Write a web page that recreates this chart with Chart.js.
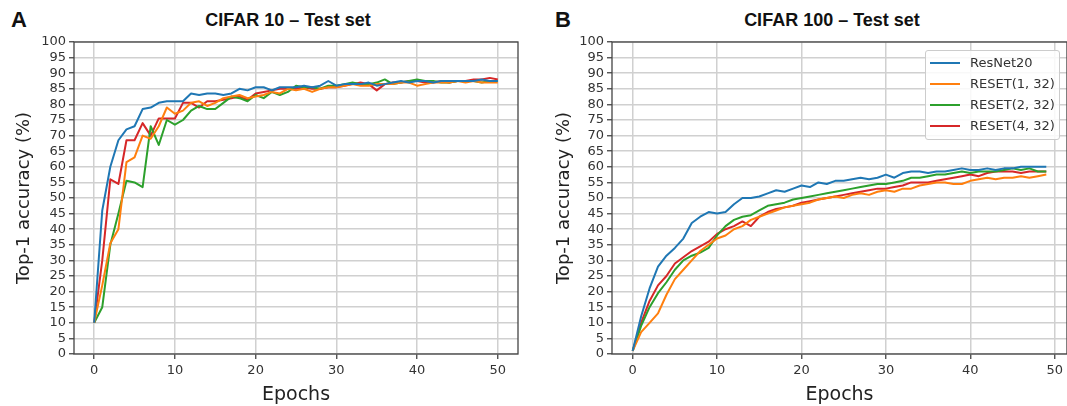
<!DOCTYPE html>
<html>
<head>
<meta charset="utf-8">
<script src="https://cdn.jsdelivr.net/npm/chart.js@4.4.1/dist/chart.umd.min.js"></script>
<style>
    html, body { margin: 0; padding: 0; background: #fff; }
    body { width: 1067px; height: 406px; position: relative; overflow: hidden; }
    canvas { position: absolute; top: 0; }
    .head { position: absolute; font-family: "Liberation Sans", Arial, sans-serif; font-weight: bold; color: #111; white-space: nowrap; }
    .title { font-size: 18px; line-height: 18px; top: 11px; transform: translateX(-50%); }
    .letter { font-size: 22px; line-height: 22px; top: 9px; }
    #legend { position: absolute; left: 925px; top: 50px; width: 135px; height: 90px; box-sizing: border-box;
              border: 1px solid #ccc; border-radius: 3px; background: rgba(255,255,255,0.85);
              font-family: "DejaVu Sans", sans-serif; font-size: 13px; color: #333; padding-top: 1px; }
    .row { height: 21px; display: flex; align-items: center; white-space: nowrap; }
    .swatch { width: 30px; height: 2px; margin-left: 4px; margin-right: 10px; }
</style>
</head>
<body>
<div class="head letter" style="left:11px">A</div>
<div class="head title" style="left:288px">CIFAR 10 – Test set</div>
<div class="head letter" style="left:555px">B</div>
<div class="head title" style="left:832px">CIFAR 100 – Test set</div>
<canvas id="c10" width="533" height="406" style="left:0"></canvas>
<canvas id="c100" width="534" height="406" style="left:533px"></canvas>
<div id="legend"></div>
<script>
const names = ['ResNet20', 'RESET(1, 32)', 'RESET(2, 32)', 'RESET(4, 32)'];
const colors = ['#1f77b4', '#ff7f0e', '#2ca02c', '#d62728'];
const xTicks = [0, 10, 20, 30, 40, 50];

// CIFAR 10, epochs 0..50
const blue10 = [10,46,60,68.5,72,73,78.5,79,80.5,81,81,81,83.5,83,83.5,83.5,83,83.5,85,84.5,85.5,85.5,84.5,85.5,85.5,85.5,86,85.5,86,87.5,86,86.5,86.5,86.5,87,86,86.5,87,87.5,87,87.5,87.5,87,87.5,87.5,87.5,87.5,87.5,88,87.5,87.5];
const orange10 = [10,22,35.5,40,61.5,63,70,69,73,79,77,78,80.5,81,79.5,80.5,82,82.5,83,82,82.5,83,84,83.5,85,84.5,85,84,85,85.5,85.5,86,86.5,86,86,86.5,86.5,86.5,87,87,86,86.5,87,87,87,87.5,87,87.5,87,87,87];
const green10 = [10,15,35,45,55.5,55,53.5,73,67,75,73.5,75,78,79.5,78.5,78.5,80.5,82.5,82,81,83,82,84,83,84,86,85.5,85.5,85,86,86,86.5,87,86.5,86.5,87,88,86.5,87,87.5,88,87.5,87.5,87,87,87.5,87.5,87.5,87,87.5,87.5];
const red10 = [10,30,56,54.5,68.5,68.5,74,70,75.5,75.5,75.5,80.5,80.5,79,81,81,81.5,82,82.5,81.5,83.5,84,84.5,85,85,85,85.5,85,85,85.5,85.5,86,86.5,87,86.5,84.5,86.5,87,87,87.5,87.5,87,87,87.5,87,87.5,87.5,88,88,88.5,88];

// CIFAR 100, epochs 0..49
const blue100 = [1,12,21,28,31.5,34,37,42,44,45.5,45,45.5,48,50,50,50.5,51.5,52.5,52,53,54,53.5,55,54.5,55.5,55.5,56,56.5,56,56.5,57.5,56.5,58,58.5,58.5,58,58.5,58.5,59,59.5,59,59,59.5,59,59.5,59.5,60,60,60,60];
const orange100 = [1,7,10,13,19,24,27,30,33,35,37,38,40,41,43,44,45,46,47,47.5,48,48.5,49.5,50,50.5,50,51,51.5,51,52,52.5,52,53,53,54,54.5,55,55,54.5,54.5,55.5,56,56.5,56,56.5,56.5,57,56.5,57,57.5];
const green100 = [1,9,15,19.5,23,27,30,31.5,32.5,34,38,41,43,44,44.5,46,47.5,48,48.5,49.5,50,50.5,51,51.5,52,52.5,53,53.5,54,54.5,54.5,55,55.5,56.5,56.5,57,57.5,57.5,58,58.5,58,58.5,58.5,58.5,59,59.5,59,59.5,58.5,58.5];
const red100 = [1,10,17,22,25,29,31,33,34.5,36,38.5,40,41,42.5,41,44,45.5,46.5,47,47.5,48.5,49,49.5,50,50.5,51,51.5,52,52.5,53,53,53.5,54,55,55,55,55.5,56,56.5,57,57.5,57,58,58.5,58.5,58.5,58,58.5,58.5,58.5];

const frame = {
    id: 'frame',
    afterDatasetsDraw(chart) {
        const { ctx, chartArea: a } = chart;
        ctx.save();
        ctx.strokeStyle = '#444';
        ctx.lineWidth = 1.3;
        ctx.strokeRect(a.left, a.top, a.right - a.left, a.bottom - a.top);
        ctx.restore();
    }
};

function makeChart(id, series, o) {
    const tickFont = { family: 'DejaVu Sans', size: 13 };
    return new Chart(document.getElementById(id), {
        type: 'line',
        data: {
            datasets: series.map((s, i) => ({
                label: names[i],
                data: s.map((v, e) => ({ x: e, y: v })),
                borderColor: colors[i],
                borderWidth: 2,
                borderJoinStyle: 'round',
                pointRadius: 0,
                tension: 0,
                fill: false
            }))
        },
        options: {
            responsive: false,
            animation: false,
            layout: { padding: { top: 42, right: o.padRight, left: 0, bottom: 0 } },
            plugins: { legend: { display: false }, tooltip: { enabled: false } },
            scales: {
                x: {
                    type: 'linear',
                    min: o.xMin, max: o.xMax,
                    afterBuildTicks: s => { s.ticks = xTicks.map(v => ({ value: v })); },
                    afterFit: s => { s.height = 52; },
                    ticks: { font: tickFont, color: '#333', padding: 4 },
                    grid: { color: '#d0d0d0', lineWidth: 1.5, tickColor: '#444', tickWidth: 1.3, tickLength: 5 },
                    border: { display: false },
                    title: { display: true, text: 'Epochs', color: '#222',
                             font: { family: 'DejaVu Sans', size: 19 }, padding: { top: 0, bottom: 0 } }
                },
                y: {
                    min: 0, max: 100,
                    afterFit: s => { s.width = o.yWidth; },
                    ticks: { stepSize: 5, autoSkip: false, font: tickFont, color: '#333', padding: 3 },
                    grid: { color: '#d0d0d0', lineWidth: 1.5, tickColor: '#444', tickWidth: 1.3, tickLength: 5 },
                    border: { display: false },
                    title: { display: true, text: 'Top-1 accuracy (%)', color: '#222',
                             font: { family: 'DejaVu Sans', size: 18 }, padding: { top: o.titlePad, bottom: 0 } }
                }
            }
        },
        plugins: [frame]
    });
}

makeChart('c10', [blue10, orange10, green10, red10],
    { xMin: -2.5, xMax: 52.5, yWidth: 74, padRight: 15, titlePad: 14 });
makeChart('c100', [blue100, orange100, green100, red100],
    { xMin: -2.45, xMax: 51.45, yWidth: 79, padRight: 0, titlePad: 21 });

const legend = document.getElementById('legend');
names.forEach((n, i) => {
    const row = document.createElement('div');
    row.className = 'row';
    row.innerHTML = '<span class="swatch" style="background:' + colors[i] + '"></span>' + n;
    legend.appendChild(row);
});
</script>
</body>
</html>
